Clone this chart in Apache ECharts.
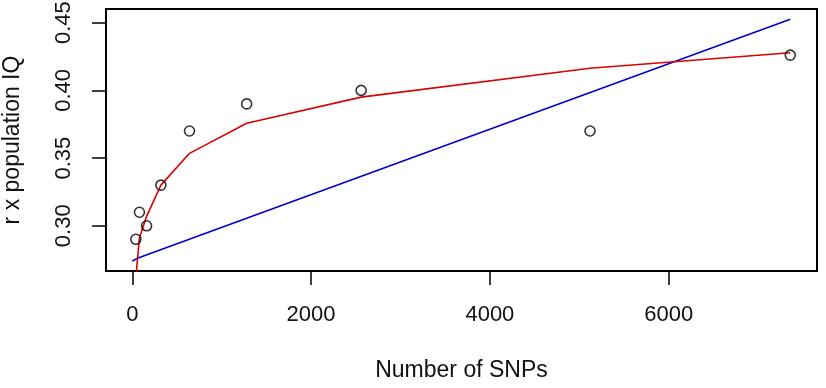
<!DOCTYPE html>
<html>
<head>
<meta charset="utf-8">
<script src="https://cdn.jsdelivr.net/npm/echarts@6/dist/echarts.min.js"></script>
<style>
html,body{margin:0;padding:0;background:#fff;}
#chart{width:826px;height:388px;}
</style>
</head>
<body>
<div id="chart"></div>
<script>
// Observed data points
var snpCounts = [40, 80, 160, 320, 640, 1280, 2560, 5120, 7360];
var rValues   = [0.29, 0.31, 0.30, 0.33, 0.37, 0.39, 0.40, 0.37, 0.426];
// Red curve (fitted, drawn through the SNP counts)
var redX = [40, 80, 160, 320, 640, 1280, 2560, 5120, 7360];
var redY = [0.262, 0.291, 0.307, 0.330, 0.3535, 0.3757, 0.395, 0.4163, 0.4278];
// Blue line (linear fit)
var blueX = [0, 80, 7360];
var blueY = [0.274, 0.2765, 0.4525];
// Tick labels
var xTicks = [0, 2000, 4000, 6000];
var yTicks = [0.30, 0.35, 0.40, 0.45];

function pairs(xs, ys){ return xs.map(function(x,i){ return [x, ys[i]]; }); }

var font = 'Liberation Sans, Arial, sans-serif';
var chart = echarts.init(document.getElementById('chart'), null, {renderer:'canvas'});
chart.setOption({
  animation: false,
  backgroundColor: '#ffffff',
  grid: {left:106, right:9, top:9, bottom:117, containLabel:false, outerBoundsMode:'none',
    show:true, borderColor:'#000', borderWidth:2, backgroundColor:'transparent'},
  xAxis: {
    type:'value', min:-294, max:7659,
    name:'Number of SNPs', nameLocation:'middle', nameGap:88,
    nameTextStyle:{fontFamily:font, fontSize:23, color:'#111'},
    axisLine:{show:false, onZero:false},
    splitLine:{show:false},
    axisTick:{show:true, inside:false, length:14, lineStyle:{color:'#000', width:1.5}, customValues:xTicks},
    axisLabel:{fontFamily:font, fontSize:22, color:'#111', margin:33, customValues:xTicks,
      formatter:function(v){return String(v);} }
  },
  yAxis: {
    type:'value', min:0.2666, max:0.4601,
    name:'r x population IQ', nameLocation:'middle', nameGap:82, nameRotate:90,
    nameTextStyle:{fontFamily:font, fontSize:23, color:'#111'},
    axisLine:{show:false, onZero:false},
    splitLine:{show:false},
    axisTick:{show:true, inside:false, length:14, lineStyle:{color:'#000', width:1.5}, customValues:yTicks},
    axisLabel:{fontFamily:font, fontSize:22, color:'#111', margin:31, rotate:90, customValues:yTicks,
      formatter:function(v){return v.toFixed(2);} }
  },
  series: [
    {type:'line', data:pairs(blueX, blueY), symbol:'none', clip:true,
      lineStyle:{color:'#0000cc', width:1.6}, z:2},
    {type:'line', data:pairs(redX, redY), symbol:'none', clip:true,
      lineStyle:{color:'#dd0000', width:1.6}, z:3},
    {type:'scatter', data:pairs(snpCounts, rValues), symbol:'circle', symbolSize:10,
      itemStyle:{color:'transparent', borderColor:'#000', borderWidth:1.6}, z:4}
  ]
});
</script>
</body>
</html>
